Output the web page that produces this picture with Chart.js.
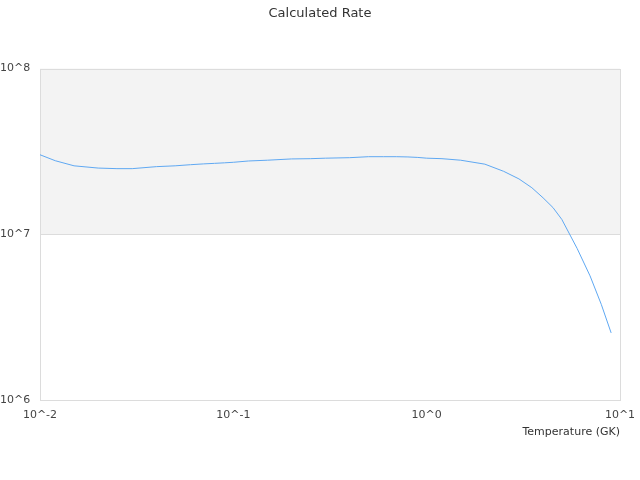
<!DOCTYPE html>
<html>
<head>
<meta charset="utf-8">
<script src="https://cdn.jsdelivr.net/npm/chart.js@4/dist/chart.umd.min.js"></script>
<style>
  html, body { margin: 0; padding: 0; background: #fff; }
  #wrap { width: 640px; height: 480px; }
</style>
</head>
<body>
<div id="wrap"><canvas id="chart"></canvas></div>
<script>
// Temperature grid (GK) and calculated rate
const temperatures = [0.01, 0.012, 0.015, 0.02, 0.025, 0.03, 0.04, 0.05, 0.06, 0.07, 0.08, 0.09,
    0.1, 0.12, 0.15, 0.2, 0.25, 0.3, 0.4, 0.5, 0.6, 0.7, 0.8, 0.9,
    1, 1.2, 1.5, 2, 2.5, 3, 3.5, 4, 4.5, 5, 6, 7, 8, 9];
const rates = [3.02e7, 2.78e7, 2.59e7, 2.51e7, 2.49e7, 2.49e7, 2.56e7, 2.59e7, 2.63e7, 2.66e7, 2.68e7, 2.70e7,
    2.72e7, 2.77e7, 2.80e7, 2.85e7, 2.86e7, 2.88e7, 2.90e7, 2.94e7, 2.94e7, 2.94e7, 2.93e7, 2.91e7,
    2.88e7, 2.86e7, 2.80e7, 2.65e7, 2.40e7, 2.16e7, 1.91e7, 1.66e7, 1.45e7, 1.23e7, 8.22e6, 5.61e6, 3.78e6, 2.54e6];
const xTicks = [0.01, 0.1, 1, 10];
const yTicks = [1e6, 1e7, 1e8];
// shaded decade band
const bandRange = [1e7, 1e8];

const fontFamily = '"DejaVu Sans", sans-serif';

const bandPlugin = {
    id: 'band',
    beforeDatasetsDraw: function (chart) {
        const { ctx, chartArea, scales } = chart;
        const top = scales.y.getPixelForValue(bandRange[1]);
        const bottom = scales.y.getPixelForValue(bandRange[0]);
        ctx.save();
        ctx.fillStyle = '#f3f3f3';
        ctx.fillRect(chartArea.left, top, chartArea.right - chartArea.left, bottom - top);
        // band edge and frame over the fill
        ctx.strokeStyle = '#dcdcdc';
        ctx.lineWidth = 1;
        ctx.beginPath();
        ctx.moveTo(chartArea.left, Math.round(bottom) + 0.5);
        ctx.lineTo(chartArea.right, Math.round(bottom) + 0.5);
        ctx.stroke();
        ctx.strokeRect(Math.round(chartArea.left) + 0.5, Math.round(chartArea.top) + 0.5,
            Math.round(chartArea.right - chartArea.left), Math.round(chartArea.bottom - chartArea.top));
        ctx.restore();
    }
};

const powerLabel = function (value) {
    return '10^' + Math.round(Math.log10(value));
};

new Chart(document.getElementById('chart'), {
    type: 'line',
    data: {
        datasets: [{
            label: 'Rate',
            data: temperatures.map((t, i) => ({ x: t, y: rates[i] })),
            borderColor: '#5fa8f2',
            borderWidth: 1,
            pointRadius: 0,
            tension: 0,
            fill: false
        }]
    },
    plugins: [bandPlugin],
    options: {
        responsive: true,
        maintainAspectRatio: false,
        animation: false,
        layout: {
            padding: { left: 0, right: 0, top: 0, bottom: 39 }
        },
        plugins: {
            legend: { display: false },
            tooltip: { enabled: false },
            title: {
                display: true,
                text: 'Calculated Rate',
                color: '#333',
                font: { family: fontFamily, size: 13, weight: 'normal' },
                padding: { top: 6, bottom: 47 }
            }
        },
        scales: {
            x: {
                type: 'logarithmic',
                min: 0.01,
                max: 10,
                afterBuildTicks: function (scale) {
                    scale.ticks = xTicks.map(v => ({ value: v }));
                },
                afterFit: function (scale) {
                    scale.height = 41;
                    // keep a 20px gutter on the right without shifting the title
                    scale.paddingRight = 20;
                },
                ticks: {
                    color: '#444',
                    font: { family: fontFamily, size: 11 },
                    padding: 9,
                    maxRotation: 0,
                    autoSkip: false,
                    callback: powerLabel
                },
                grid: { display: false, drawTicks: false },
                border: { display: false },
                title: {
                    display: true,
                    text: 'Temperature (GK)',
                    align: 'end',
                    color: '#333',
                    font: { family: fontFamily, size: 11, lineHeight: 1 },
                    padding: { top: 0, bottom: 3 }
                }
            },
            y: {
                type: 'logarithmic',
                min: 1e6,
                max: 1e8,
                afterBuildTicks: function (scale) {
                    scale.ticks = yTicks.map(v => ({ value: v }));
                },
                afterFit: function (scale) {
                    scale.width = 40;
                },
                ticks: {
                    color: '#444',
                    font: { family: fontFamily, size: 11 },
                    crossAlign: 'far',
                    padding: 8,
                    autoSkip: false,
                    callback: powerLabel
                },
                grid: { display: false, drawTicks: false },
                border: { display: false }
            }
        }
    }
});
</script>
</body>
</html>
